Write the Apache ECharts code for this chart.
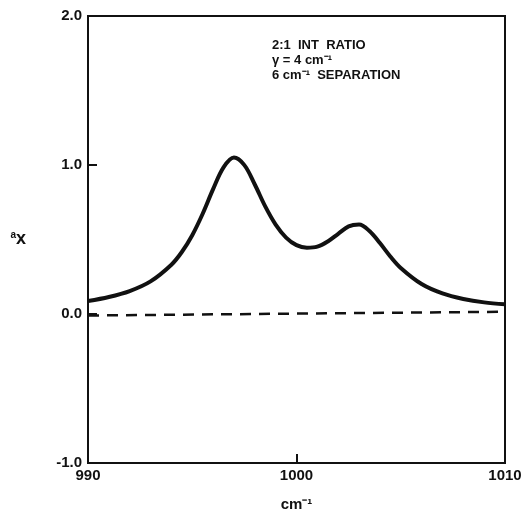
<!DOCTYPE html>
<html>
<head>
<meta charset="utf-8">
<script src="https://cdn.jsdelivr.net/npm/echarts@6/dist/echarts.min.js"></script>
<style>html,body{margin:0;padding:0;background:#fff;}#chart{width:525px;height:521px;}</style>
</head>
<body>
<div id="chart"></div>
<script>
// Wavenumbers (cm^-1) and read-off spectrum values
var wavenumbers = [990, 991, 992, 993, 994, 994.5, 995, 995.5, 996, 996.5, 997, 997.5, 998, 998.5, 999, 999.5, 1000, 1000.5, 1001, 1001.5, 1002, 1002.5, 1003, 1003.5, 1004, 1004.5, 1005, 1006, 1007, 1008, 1009, 1010];
var spectrum =    [0.087, 0.114, 0.154, 0.219, 0.331, 0.416, 0.529, 0.673, 0.838, 0.984, 1.05, 0.999, 0.869, 0.722, 0.60, 0.513, 0.462, 0.445, 0.452, 0.487, 0.538, 0.588, 0.60, 0.557, 0.476, 0.386, 0.309, 0.201, 0.138, 0.101, 0.078, 0.065];
var baselineX = [990, 1010];
var baselineY = [-0.01, 0.015];
var xTicks = [990, 1000, 1010];
var yTicks = [-1.0, 0.0, 1.0, 2.0];
var annotationLines = ['2:1  INT  RATIO', 'γ = 4 cm⁻¹', '6 cm⁻¹  SEPARATION'];

var chart = echarts.init(document.getElementById('chart'));
var font = 'Liberation Sans';
var option = {
  animation: false,
  backgroundColor: '#fff',
  grid: { left: 88, right: 20, top: 16, bottom: 58, show: true, borderColor: '#111', borderWidth: 2, backgroundColor: 'transparent' },
  xAxis: {
    type: 'value', min: xTicks[0], max: xTicks[xTicks.length - 1], interval: 10,
    axisLine: { show: true, onZero: false, lineStyle: { color: '#111', width: 2 } },
    axisTick: { show: true, inside: true, length: 9, lineStyle: { color: '#111', width: 2 } },
    splitLine: { show: false },
    axisLabel: { color: '#111', fontFamily: font, fontWeight: 'bold', fontSize: 15, margin: 5,
      formatter: function (v) { return String(v); } },
    name: 'cm⁻¹', nameLocation: 'middle', nameGap: 34,
    nameTextStyle: { color: '#111', fontFamily: font, fontWeight: 'bold', fontSize: 15 }
  },
  yAxis: {
    type: 'value', min: yTicks[0], max: yTicks[yTicks.length - 1], interval: 1,
    axisLine: { show: true, onZero: false, lineStyle: { color: '#111', width: 2 } },
    axisTick: { show: true, inside: true, length: 9, lineStyle: { color: '#111', width: 2 } },
    splitLine: { show: false },
    axisLabel: { color: '#111', fontFamily: font, fontWeight: 'bold', fontSize: 15, margin: 6,
      formatter: function (v) { return v.toFixed(1); } },
    name: '{a|a}{b|x}', nameLocation: 'middle', nameGap: 62, nameRotate: 0,
    nameTextStyle: { rich: {
      a: { fontFamily: font, fontWeight: 'bold', fontSize: 10, color: '#111', verticalAlign: 'top', padding: [0, 0, 8, 0] },
      b: { fontFamily: font, fontWeight: 'bold', fontSize: 18, color: '#111' } } }
  },
  series: [
    { type: 'line', data: wavenumbers.map(function (x, i) { return [x, spectrum[i]]; }),
      smooth: 0.35, showSymbol: false, lineStyle: { color: '#111', width: 4 }, z: 3 },
    { type: 'line', data: baselineX.map(function (x, i) { return [x, baselineY[i]]; }),
      showSymbol: false, lineStyle: { color: '#111', width: 2.5, type: [11, 8] }, z: 2 }
  ],
  graphic: annotationLines.map(function (t, i) {
    return { type: 'text', left: 272, top: 39 + i * 15,
      style: { text: t, fill: '#111', font: 'bold 13px "Liberation Sans"' } };
  })
};
chart.setOption(option);
</script>
</body>
</html>
